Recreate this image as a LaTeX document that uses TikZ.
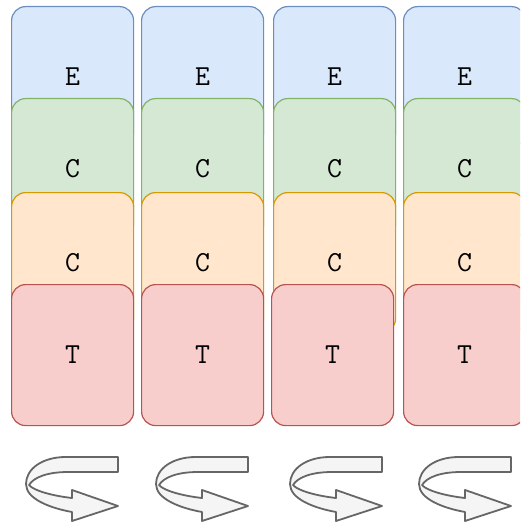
\documentclass[tikz,border=0pt]{standalone}
\usepackage{fontspec}
\usepackage{tikz}

\definecolor{eFill}{HTML}{DAE8FC}
\definecolor{eLine}{HTML}{6C8EBF}
\definecolor{cFill}{HTML}{D5E8D4}
\definecolor{cLine}{HTML}{82B366}
\definecolor{kFill}{HTML}{FFE6CC}
\definecolor{kLine}{HTML}{D79B00}
\definecolor{tFill}{HTML}{F8CECC}
\definecolor{tLine}{HTML}{B85450}
\definecolor{turnFill}{HTML}{F5F5F5}
\definecolor{turnLine}{HTML}{666666}

\tikzset{
  % u-turn arrow under each column
  uturn/.pic={
    \draw[turn] (92,0) -- (40,0) .. controls (16,0) and (0,12) .. (0,27)
      .. controls (0,42) and (24,51) .. (46,55) -- (46,64) -- (92,49) -- (46,33)
      -- (46,41) .. controls (28,39) and (8,34) .. (3,28)
      .. controls (8,20) and (22,15) .. (42,15) -- (92,15) -- cycle;
  }
}

\begin{document}
\begin{tikzpicture}[x=1pt,y=-1pt,
  box/.style={draw,rounded corners=14pt,line width=1.2pt,minimum width=122pt,
    minimum height=140pt,anchor=north west,inner sep=0pt,
    font=\fontsize{29}{34}\selectfont\ttfamily},
  turn/.style={draw=turnLine,fill=turnFill,line width=1.8pt,line join=round}]
\clip (0,0) rectangle (520,524);
\foreach \x/\r/\a[count=\i] in {11/11/26,141/141/156,273/271/290,403/403/419}{
  \node[box,draw=eLine,fill=eFill] (e\i) at (\x,6) {E};
  \node[box,draw=cLine,fill=cFill] (c\i) at (\x,98) {C};
  \node[box,draw=kLine,fill=kFill] (k\i) at (\x,192) {C};
  \node[box,draw=tLine,fill=tFill,minimum height=141pt] (t\i) at (\r,284) {T};
  \pic at (\a,457) {uturn};
}
\end{tikzpicture}
\end{document}
